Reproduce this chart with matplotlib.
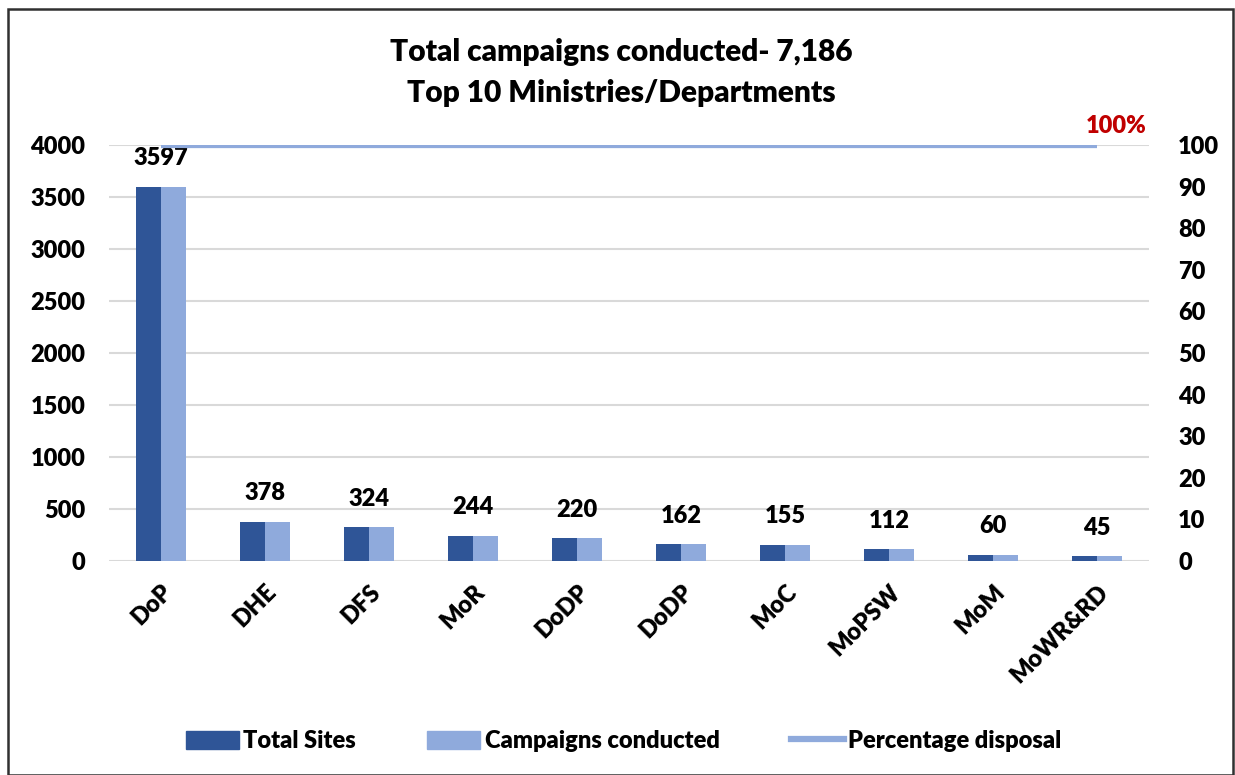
import matplotlib.pyplot as plt
from matplotlib.patches import Rectangle
import numpy as np

# 데이터
categories = ['DoP', 'DHE', 'DFS', 'MoR', 'DoDP', 'DoDP', 'MoC', 'MoPSW', 'MoM', 'MoWR&RD']
total_sites = [3597, 378, 324, 244, 220, 162, 155, 112, 60, 45]
campaigns = [3597, 378, 324, 244, 220, 162, 155, 112, 60, 45]
percentage = [100, 100, 100, 100, 100, 100, 100, 100, 100, 100]

dark = '#2F5597'
light = '#8FAADC'
fw = 'heavy'   # Lato 800

plt.rcParams['font.family'] = ['Lato', 'DejaVu Sans']
plt.rcParams['font.weight'] = fw

fig = plt.figure(figsize=(12.35, 7.75), dpi=100)
ax = fig.add_axes([109 / 1235, 1 - 561 / 775, 1040 / 1235, 416 / 775])
ax2 = ax.twinx()

x = np.arange(len(categories))
w = 0.24
ax.bar(x - w / 2, total_sites, w, color=dark, zorder=3)
ax.bar(x + w / 2, campaigns, w, color=light, zorder=3)

# 데이터 라벨
for i, v in enumerate(campaigns):
    ax.text(i, v + 275, str(v), ha='center', va='center', fontsize=17, fontweight=fw)

ax.set_xlim(-0.5, len(categories) - 0.5)
ax.set_ylim(0, 4000)
ax.set_yticks(range(0, 4001, 500))
ax.grid(axis='y', color='#D9D9D9', linewidth=1.5, zorder=0)
for s in ax.spines.values():
    s.set_visible(False)
for s in ax2.spines.values():
    s.set_visible(False)
ax.tick_params(axis='y', length=0, pad=17, labelsize=17)
ax.tick_params(axis='x', length=0, pad=14, labelsize=17)
ax.set_xticks(x)
ax.set_xticklabels(categories, rotation=45, ha='right', rotation_mode='anchor')

# 퍼센트 선
ax2.plot(x, percentage, color=light, linewidth=4.5, zorder=4, solid_capstyle='butt')
ax2.set_ylim(0, 100)
ax2.set_yticks(range(0, 101, 10))
ax2.tick_params(axis='y', length=0, pad=21, labelsize=17)
ax2.text(x[-1] + 0.18, percentage[-1] + 4.6, '100%', color='#C00000', fontsize=17,
         fontweight=fw, ha='center', va='center')

fig.text(0.503, 1 - 52 / 775, 'Total campaigns conducted- 7,186', ha='center', va='center',
         fontsize=21.5, fontweight=fw)
fig.text(0.503, 1 - 93 / 775, 'Top 10 Ministries/Departments', ha='center', va='center',
         fontsize=21.5, fontweight=fw)

# 범례
handles = [Rectangle((0, 0), 1, 1, color=dark), Rectangle((0, 0), 1, 1, color=light),
           plt.Line2D([0], [0], color=light, linewidth=4.5)]
fig.legend(handles, ['Total Sites', 'Campaigns conducted', 'Percentage disposal'],
           loc='center', bbox_to_anchor=(0.505, 1 - 741 / 775), ncol=3, frameon=False,
           fontsize=17, handlelength=2.25, handleheight=0.8, columnspacing=3.0, handletextpad=0.2)

# 테두리
fig.patches.append(Rectangle((8 / 1235, 0), 1 - 10 / 1235, 1 - 9 / 775, transform=fig.transFigure,
                             fill=False, edgecolor='#303030', linewidth=1.8))

plt.savefig('out.png', dpi=100)
